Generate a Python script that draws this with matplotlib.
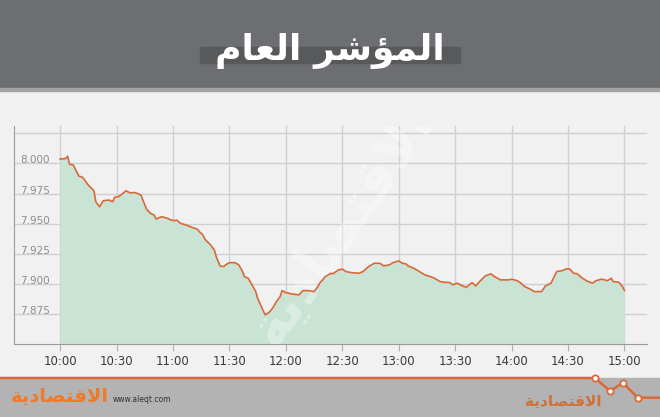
import matplotlib.pyplot as plt
from matplotlib.patches import Rectangle
from matplotlib.transforms import offset_copy

# minutes after 10:00 and index level
minutter = [0, 3, 4, 5, 7, 10, 12, 15, 18, 19, 21, 23, 26, 28, 29, 31, 33, 35, 37, 40,
            43, 44, 46, 48, 50, 51, 54, 57, 59, 61, 62, 64, 67, 70, 73, 74, 76, 77, 80, 82,
            83, 85, 87, 88, 90, 93, 95, 97, 98, 100, 102, 104, 105, 107, 109, 111, 113, 115, 117, 118,
            120, 123, 127, 129, 132, 135, 137, 138, 141, 144, 145, 148, 150, 152, 155, 159, 161, 164, 167, 170,
            172, 175, 177, 180, 182, 184, 185, 188, 191, 194, 197, 199, 202, 204, 207, 209, 211, 214, 216, 219,
            221, 223, 226, 229, 231, 234, 238, 240, 243, 245, 247, 250, 252, 256, 258, 261, 262, 264, 267, 269,
            271, 273, 275, 277, 280, 283, 285, 288, 291, 293, 294, 297, 299, 300]
verdi = [8003.6, 8004.0, 8006.0, 7999.4, 7998.6, 7989.5, 7988.4, 7982.0, 7977.3, 7968.2,
         7964.0, 7969.0, 7969.6, 7968.2, 7971.9, 7972.4, 7974.6, 7977.3, 7975.7, 7975.7,
         7973.8, 7969.6, 7962.0, 7958.6, 7957.2, 7953.9, 7955.8, 7954.5, 7953.0, 7952.5,
         7953.0, 7950.3, 7948.9, 7947.0, 7945.4, 7943.4, 7940.6, 7937.1, 7932.4, 7928.2,
         7922.7, 7915.0, 7914.4, 7915.8, 7917.7, 7917.7, 7915.8, 7910.3, 7906.1, 7904.8,
         7899.3, 7893.7, 7888.2, 7881.3, 7874.4, 7876.3, 7880.0, 7885.4, 7889.6, 7894.5,
         7892.9, 7891.8, 7891.0, 7894.5, 7894.5, 7893.7, 7897.8, 7900.7, 7906.1, 7908.9,
         7908.4, 7911.7, 7912.3, 7910.3, 7909.4, 7908.9, 7910.3, 7914.4, 7917.2, 7917.2,
         7915.0, 7915.8, 7917.7, 7919.1, 7917.2, 7916.6, 7915.0, 7913.1, 7910.3, 7907.5,
         7906.1, 7904.8, 7902.0, 7901.5, 7901.2, 7899.3, 7900.7, 7898.4, 7897.3, 7901.2,
         7898.4, 7902.0, 7906.7, 7908.4, 7906.1, 7903.4, 7903.4, 7903.9, 7902.8, 7900.7,
         7897.8, 7895.7, 7893.7, 7893.7, 7898.4, 7900.7, 7904.0, 7910.3, 7911.1, 7912.5,
         7912.3, 7908.9, 7908.4, 7905.6, 7902.5, 7900.7, 7902.8, 7904.0, 7902.8, 7904.8,
         7902.0, 7901.5, 7897.8, 7894.5]

x_ticks = [0, 30, 60, 90, 120, 150, 180, 210, 240, 270, 300]
x_labels = ["10:00", "10:30", "11:00", "11:30", "12:00", "12:30", "13:00", "13:30", "14:00", "14:30", "15:00"]
y_ticks = [8000, 7975, 7950, 7925, 7900, 7875]
y_labels = ["8.000", "7.975", "7.950", "7.925", "7.900", "7.875"]

# arabic text in visual order (presentation forms)
tittel = "\uFEE1\uFE8E\uFECC\uFEDF\uFE8D \uFEAE\uFEB7\uFE86\uFEE4\uFEDF\uFE8D"
logo = "\uFE94\uFEF3\uFEA9\uFE8E\uFEBC\uFE98\uFED7\uFEFB\uFE8D"

W, H = 660, 417
fig = plt.figure(figsize=(6.6, 4.17), dpi=100, facecolor="#f1f1f1")

# background / decoration layer in pixel coords
bg = fig.add_axes([0, 0, 1, 1], zorder=0)
bg.set_xlim(0, W)
bg.set_ylim(H, 0)
bg.axis("off")
bg.add_patch(Rectangle((0, 0), W, 88, color="#6d6e71"))
bg.add_patch(Rectangle((0, 88), W, 2.5, color="#a3a3a5"))
bg.add_patch(Rectangle((200, 47), 260, 15.5, color="#58595b"))
bg.text(330, 51, tittel, color="white", fontsize=26, fontweight="bold",
        ha="center", va="center", family="DejaVu Sans")

bg.add_patch(Rectangle((0, 378), W, H - 378, color="#b3b3b3"))
zx = [0, 595, 610, 623, 637.6, 660]
zy = [378, 378, 391, 382.7, 397.7, 397.7]
bg.plot(zx, zy, color="#d9683a", lw=1.8)
bg.plot(zx[1:5], zy[1:5], "o", ms=4.5, mfc="white", mec="#d9683a", mew=1.3)
bg.text(60, 396, logo, color="#f07a28", fontsize=14, fontweight="bold",
        ha="center", va="center", family="DejaVu Sans")
bg.text(113, 400, "www.aleqt.com", color="#333333", fontsize=5.5, ha="left", va="center")
bg.text(563, 401, logo, color="#d0703a", fontsize=11, fontweight="bold",
        ha="center", va="center", family="DejaVu Sans")

# main chart
ax = fig.add_axes([14 / W, (H - 344.3) / H, (647 - 14) / W, (344.3 - 126) / H], zorder=1)
ax.set_facecolor("none")
ax.set_xlim(-24.5, 312)
ax.set_ylim(7850, 8031)

for y in [8025] + y_ticks:
    ax.axhline(y, color="#d0d0d0", lw=1, zorder=1)
for x in x_ticks:
    ax.axvline(x, color="#d0d0d0", lw=1, zorder=1)

ax.fill_between(minutter, verdi, 7850, color="#c9e4d4", zorder=2, lw=0)
ax.text(150, 7948, logo, color="white", alpha=0.35, fontsize=40, fontweight="bold",
        rotation=55, ha="center", va="center", family="DejaVu Sans", zorder=3,
        clip_on=True)
ax.plot(minutter, verdi, color="#d9683a", lw=1.2, zorder=4)

for s in ["top", "right"]:
    ax.spines[s].set_visible(False)
for s in ["left", "bottom"]:
    ax.spines[s].set_color("#9a9a9a")
ax.set_yticks([])
ax.set_xticks(x_ticks)
ax.set_xticklabels(x_labels, fontsize=8.5, color="#3a3a3a")
ax.tick_params(axis="x", length=5, color="#b0b0b0", pad=3)

lbl_tr = offset_copy(ax.transData, fig=fig, x=0, y=3, units="dots")
for y, t in zip(y_ticks, y_labels):
    ax.text(-5.3, y, t, transform=lbl_tr, fontsize=7.5, color="#8c8c8c",
            ha="right", va="center", zorder=5)

fig.savefig("out.png", dpi=100, facecolor=fig.get_facecolor())
